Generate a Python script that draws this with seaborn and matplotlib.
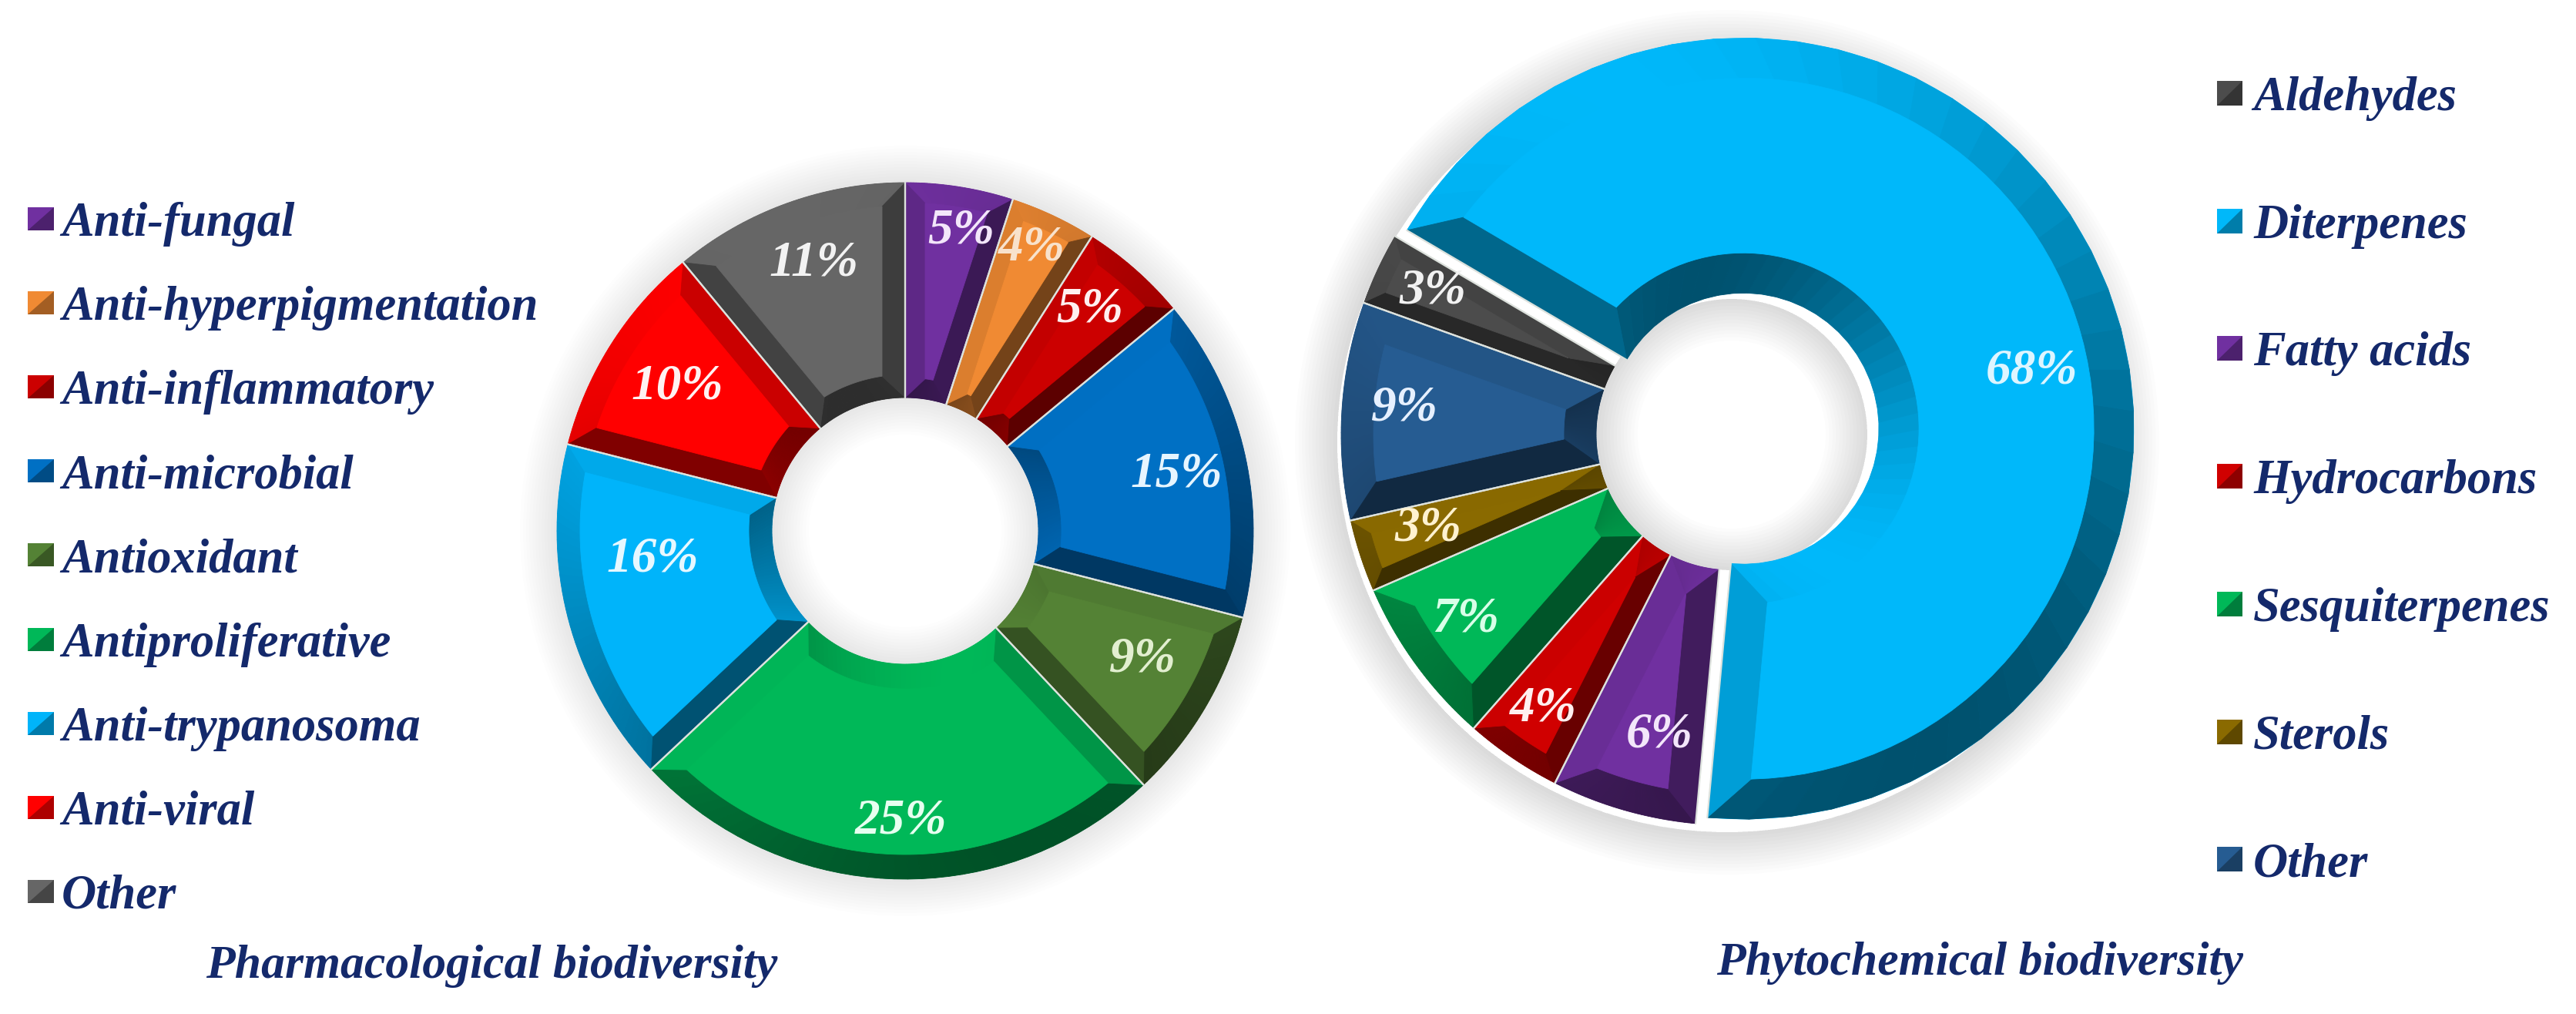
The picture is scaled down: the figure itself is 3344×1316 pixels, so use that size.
import numpy as np
import matplotlib
matplotlib.use("Agg")
import matplotlib.pyplot as plt
from matplotlib.patches import Polygon, Rectangle, Wedge
import seaborn as sns

# ---- data ----
pharma_labels = ["Anti-fungal", "Anti-hyperpigmentation", "Anti-inflammatory", "Anti-microbial",
                 "Antioxidant", "Antiproliferative", "Anti-trypanosoma", "Anti-viral", "Other"]
pharma_values = [5, 4, 5, 15, 9, 25, 16, 10, 11]
pharma_colors = ["#7030A0", "#F08A33", "#CC0000", "#0070C4", "#548235", "#00B858", "#00B4FA", "#FF0000", "#666666"]

phyto_labels = ["Diterpenes", "Fatty acids", "Hydrocarbons", "Sesquiterpenes", "Sterols", "Other", "Aldehydes"]
phyto_values = [68, 6, 4, 7, 3, 9, 3]
phyto_colors = ["#00B8FA", "#7030A0", "#D00000", "#00B858", "#8A6A00", "#265C92", "#4C4C4C"]
phyto_legend = ["Aldehydes", "Diterpenes", "Fatty acids", "Hydrocarbons", "Sesquiterpenes", "Sterols", "Other"]
phyto_legend_colors = ["#4C4C4C", "#00B8FA", "#7030A0", "#D00000", "#00B858", "#8A6A00", "#265C92"]

titles = ["Pharmacological biodiversity", "Phytochemical biodiversity"]

# ---- layout (pixels of the 3344x1316 canvas, y from the top) ----
W, H = 3344, 1316
NAVY = "#14296B"
FONT = dict(family=["Liberation Serif", "DejaVu Serif"], weight="bold", style="italic")
LIGHT = np.deg2rad(115)

pharma_pos = [(1248, 299), (1339, 321), (1415, 401), (1527, 615), (1483, 856),
              (1170, 1066), (847, 725), (879, 501), (1056, 341)]
pharma_txt = ["#F3E6FA", "#F8E2CC", "#FFEFEF", "#E6F5FF", "#E2EFD0", "#E6FFF0", "#E6F8FF", "#FFF2F2", "#F2F2F2"]
phyto_pos = [(2638, 481), (2154, 954), (2003, 920), (1903, 804), (1854, 686), (1823, 530), (1860, 378)]
phyto_txt = ["#DDF5FF", "#F3E6FA", "#FFEFEF", "#D8FFE8", "#FFF2D0", "#E6F0FF", "#F2F2F2"]

sns.set_theme(style="white")
plt.rcParams["font.family"] = ["Liberation Serif", "DejaVu Serif"]

fig = plt.figure(figsize=(W / 100, H / 100), dpi=100, facecolor="white")
ax = fig.add_axes([0, 0, 1, 1])


def Y(y):
    return H - y


def shade(color, normal):
    f = 0.72 + 0.28 * np.cos(normal - LIGHT)
    return tuple(np.array(matplotlib.colors.to_rgb(color)) * f)


def halo(cx, cy, ro, ri, dx=0, dy=0, n=12, step=4.0, a=0.009):
    for k in range(1, n + 1):
        ax.add_patch(Wedge((cx + dx, cy + dy), ro + k * step, 0, 360, width=k * step + 1,
                           fc="black", ec="none", alpha=a, zorder=0))
    for k in range(1, n + 1):
        ax.add_patch(Wedge((cx, cy), ri, 0, 360, width=k * step,
                           fc="black", ec="none", alpha=a, zorder=0))


def pol(r, a, c):
    return (c[0] + r * np.cos(a), c[1] + r * np.sin(a))


def bevel(wedge, ri, b, color, n=40):
    c = wedge.center
    ro = wedge.r
    t1, t2 = np.deg2rad(wedge.theta1), np.deg2rad(wedge.theta2)
    half = (t2 - t1) / 2
    r_apex = b / np.sin(half) if half < np.pi / 2 else 0
    rf_out = ro - b
    rf_in = min(max(ri + b, r_apex * 1.001), rf_out * 0.999)
    a1 = lambda r: t1 + np.arcsin(b / r)
    a2 = lambda r: t2 - np.arcsin(b / r)

    def band(r_edge, r_face, sign):
        u = np.linspace(0, 1, n + 1)
        te = t1 + u * (t2 - t1)
        tf = a1(r_face) + u * (a2(r_face) - a1(r_face))
        for i in range(n):
            pts = [pol(r_edge, te[i], c), pol(r_edge, te[i + 1], c),
                   pol(r_face, tf[i + 1], c), pol(r_face, tf[i], c)]
            nrm = (te[i] + te[i + 1]) / 2 + (0 if sign > 0 else np.pi)
            col = shade(color, nrm)
            ax.add_patch(Polygon(pts, closed=True, fc=col, ec=col, lw=0.6, zorder=3))

    band(ro, rf_out, 1)
    band(ri, rf_in, -1)
    s1 = [pol(ri, t1, c), pol(ro, t1, c), pol(rf_out, a1(rf_out), c), pol(rf_in, a1(rf_in), c)]
    s2 = [pol(ri, t2, c), pol(ro, t2, c), pol(rf_out, a2(rf_out), c), pol(rf_in, a2(rf_in), c)]
    for pts, nrm in ((s1, t1 - np.pi / 2), (s2, t2 + np.pi / 2)):
        col = shade(color, nrm)
        ax.add_patch(Polygon(pts, closed=True, fc=col, ec=col, lw=0.6, zorder=4))
    ao = np.linspace(a1(rf_out), a2(rf_out), 80)
    ai = np.linspace(a2(rf_in), a1(rf_in), 80)
    face = [pol(rf_out, a, c) for a in ao] + [pol(rf_in, a, c) for a in ai]
    ax.add_patch(Polygon(face, closed=True, fc=color, ec=color, lw=0.6, zorder=5))
    for a in (t1, t2):
        p, q = pol(ri, a, c), pol(ro, a, c)
        ax.plot([p[0], q[0]], [p[1], q[1]], color="#DDE2DD", lw=1.6, zorder=6)


def donut(values, colors, center, ro, ri, start, explode, bevels):
    wedges, _ = ax.pie(values, colors=colors, startangle=start, counterclock=False,
                       center=center, radius=ro, explode=explode,
                       wedgeprops=dict(width=ro - ri, linewidth=0, zorder=2))
    for w, col, b in zip(wedges, colors, bevels):
        bevel(w, ri, b, col)


def legend(labels, colors, xm, xt, y0, step, mw, mh, size):
    for i, (lab, col) in enumerate(zip(labels, colors)):
        y = y0 + i * step
        ax.add_patch(Rectangle((xm, Y(y + mh / 2)), mw, mh, fc=col, ec="none", zorder=3))
        dark = tuple(np.array(matplotlib.colors.to_rgb(col)) * 0.68)
        ax.add_patch(Polygon([(xm, Y(y + mh / 2)), (xm + mw, Y(y + mh / 2)), (xm + mw, Y(y - mh / 2))],
                             closed=True, fc=dark, ec="none", zorder=4))
        ax.text(xt, Y(y), lab, ha="left", va="center_baseline", color=NAVY, fontsize=size, **FONT)


# left donut
cL = (1175, Y(689))
halo(cL[0], cL[1], 452, 173)
donut(pharma_values, pharma_colors, cL, 452, 173, 90, None, [26, 22, 26, 30, 30, 32, 30, 30, 30])
for v, p, tc in zip(pharma_values, pharma_pos, pharma_txt):
    ax.text(p[0], Y(p[1]), f"{v}%", ha="center", va="center", color=tc, fontsize=47, zorder=8, **FONT)

# right donut
cR = (2248, Y(564))
halo(cR[0], cR[1], 507, 176, dx=-6, dy=-10, n=12, step=4.5, a=0.012)
explode = [17, 0, 0, 0, 0, 0, 0]  # pie() offsets in axis units, here canvas pixels
donut(phyto_values, phyto_colors, cR, 507, 176, 149.5, explode, [52, 40, 28, 40, 22, 42, 22])
for v, p, tc in zip(phyto_values, phyto_pos, phyto_txt):
    ax.text(p[0], Y(p[1]), f"{v}%", ha="center", va="center", color=tc, fontsize=47, zorder=8, **FONT)

legend(pharma_labels, pharma_colors, 36, 80, 284, 109.1, 34, 30, 45)
legend(phyto_legend, phyto_legend_colors, 2878, 2925, 121, 165.7, 33, 32, 45)

ax.text(638, Y(1254), titles[0], ha="center", va="center", color=NAVY, fontsize=44.5, **FONT)
ax.text(2570, Y(1250), titles[1], ha="center", va="center", color=NAVY, fontsize=44.5, **FONT)

ax.set_xlim(0, W)
ax.set_ylim(0, H)
ax.set_aspect("equal")
ax.axis("off")
fig.savefig("out.png", dpi=100, facecolor="white")
